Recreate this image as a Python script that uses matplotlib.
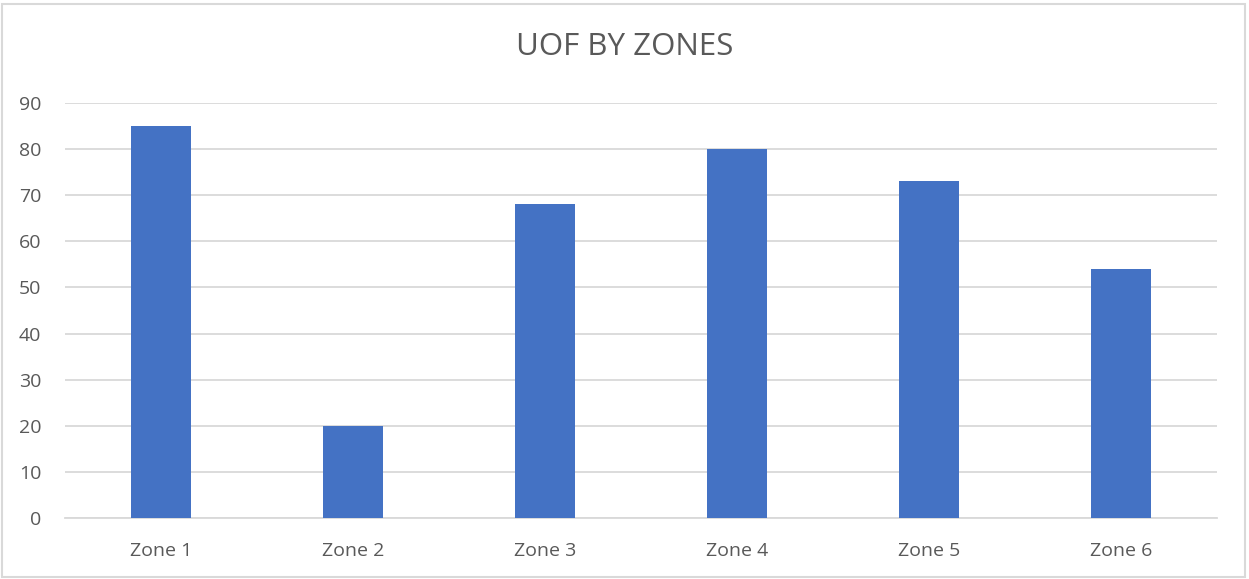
import matplotlib.pyplot as plt
from matplotlib.patches import Rectangle

plt.rcParams['font.family'] = ['Open Sans', 'DejaVu Sans']

# 数据
zones = ['Zone 1', 'Zone 2', 'Zone 3', 'Zone 4', 'Zone 5', 'Zone 6']
uof = [85, 20, 68, 80, 73, 54]

text_color = '#595959'
grid_color = '#D9D9D9'

fig = plt.figure(figsize=(12.49, 5.79), dpi=100)
ax = fig.add_axes([65 / 1249, 1 - 518 / 579, (1217 - 65) / 1249, (518 - 103) / 579])

ax.bar(range(len(zones)), uof, width=0.31, color='#4472C4', zorder=3)
ax.set_xlim(-0.5, len(zones) - 0.5)
ax.set_ylim(0, 90)
ax.set_yticks(range(0, 91, 10))
ax.set_xticks(range(len(zones)))
ax.set_xticklabels(zones)

ax.grid(axis='y', color=grid_color, linewidth=1.3, zorder=0)
for s in ['top', 'right', 'left']:
    ax.spines[s].set_visible(False)
ax.spines['bottom'].set_color(grid_color)
ax.spines['bottom'].set_linewidth(1.3)
ax.tick_params(axis='both', length=0, colors=text_color, labelsize=14)
ax.tick_params(axis='y', pad=17)
ax.tick_params(axis='x', pad=17)

fig.text(0.5, 1 - 47 / 579, 'UOF BY ZONES', ha='center', va='center', fontsize=22.5, color=text_color)

# 外框
fig.patches.append(Rectangle((2 / 1249, 1 - 577 / 579), 1243 / 1249, 573 / 579,
                             transform=fig.transFigure, fill=False, edgecolor='#D9D9D9', linewidth=1.5))

fig.savefig('out.png', dpi=100)
